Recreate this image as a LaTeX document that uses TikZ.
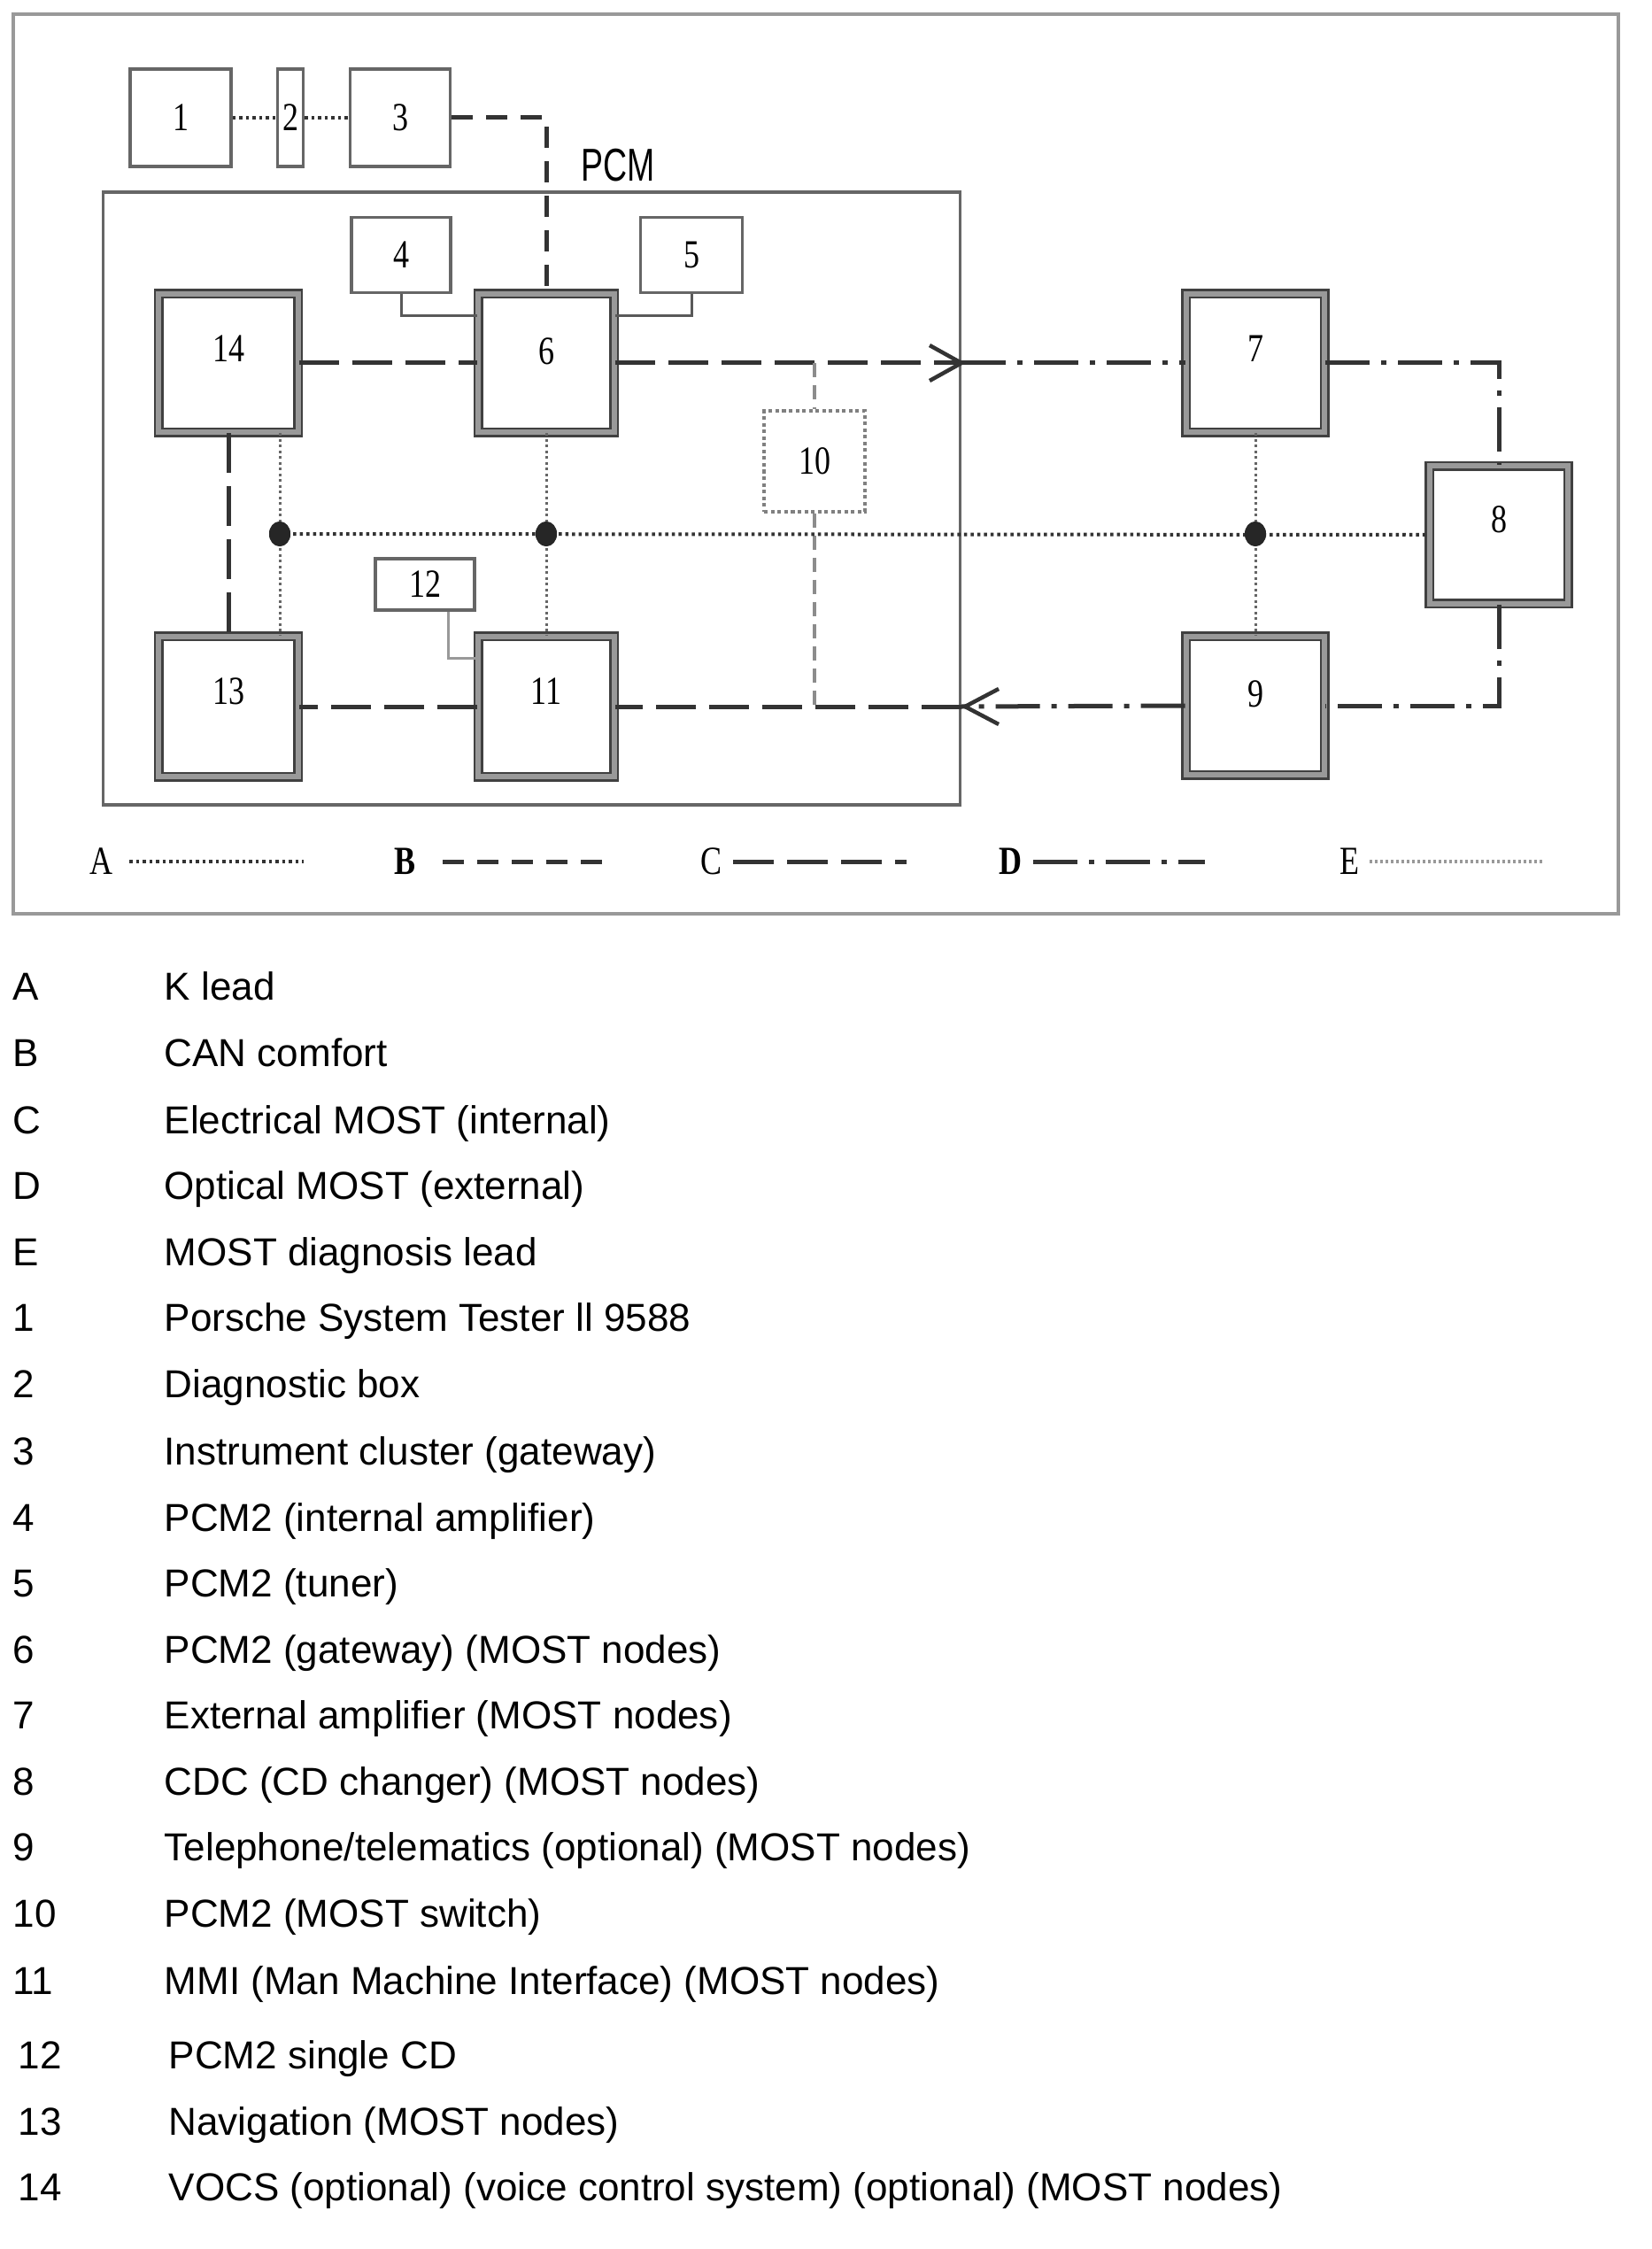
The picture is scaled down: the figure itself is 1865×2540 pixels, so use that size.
\documentclass[tikz,border=0pt]{standalone}
\usepackage{fontspec}
\setmainfont{Liberation Sans}
\newfontfamily\lblfont{Liberation Serif}[FakeStretch=0.8]
\newfontfamily\pcmfont{Liberation Sans}[FakeStretch=0.72]
\usetikzlibrary{calc,shapes.geometric}
\begin{document}
\begin{tikzpicture}[x=0.01cm,y=-0.01cm,
  mostbox/.style={draw=black!75, line width=0.25mm, double=black!40, double distance=0.6mm, fill=white, inner sep=0pt},
  smallbox/.style={draw=black!60, line width=0.35mm, fill=white, inner sep=0pt, font=\lblfont\fontsize{12.8pt}{14pt}\selectfont},
  swbox/.style={draw=black!50, line width=0.4mm, dash pattern=on 0.4mm off 0.35mm, fill=white, inner sep=0pt, font=\lblfont\fontsize{12.8pt}{14pt}\selectfont},
  lbl/.style={font=\lblfont\fontsize{12.8pt}{14pt}\selectfont, inner sep=0pt},
  busC/.style={draw=black!80, line width=0.5mm, dash pattern=on 4.5mm off 1.5mm},
  busB/.style={draw=black!80, line width=0.5mm, dash pattern=on 2.4mm off 1.5mm},
  busD/.style={draw=black!80, line width=0.5mm, dash pattern=on 5mm off 1.3mm on 0.6mm off 1.3mm},
  legC/.style={draw=black!80, line width=0.5mm, dash pattern=on 4.6mm off 1.5mm on 4.6mm off 1.5mm on 4.6mm off 1.5mm on 1.3mm off 1.5mm},
  kdot/.style={draw=black!80, line width=0.4mm, dash pattern=on 0.35mm off 0.4mm},
  vdot/.style={draw=black!60, line width=0.3mm, dash pattern=on 0.3mm off 0.35mm},
  edot/.style={draw=black!40, line width=0.35mm, dash pattern=on 0.3mm off 0.3mm},
  swdash/.style={draw=black!45, line width=0.4mm, dash pattern=on 1.6mm off 0.9mm},
  thinln/.style={draw=black!65, line width=0.3mm},
  lightln/.style={draw=black!40, line width=0.3mm},
  arrowln/.style={draw=black!80, line width=0.45mm},
  dotnode/.style={ellipse, fill=black!85, minimum width=0.24cm, minimum height=0.28cm, inner sep=0pt},
  listtxt/.style={anchor=base west, inner sep=0pt, font=\fontsize{12.52pt}{15pt}\selectfont}
]
\useasboundingbox (0,0) rectangle (1865,2540);

% outer frame
\draw[draw=black!40, line width=0.4mm] (15,16) rectangle (1828,1032);

% PCM box
\node[draw=black!60, line width=0.35mm, minimum width=9.67cm, minimum height=6.92cm, inner sep=0pt] (pcm) at (600.5,563) {};
\node[font=\pcmfont\fontsize{14.8pt}{16pt}\selectfont, inner sep=0pt] (pcml) at (698,187) {PCM};

% small boxes
\node[smallbox, minimum width=1.14cm, minimum height=1.10cm] (n1) at (204,133) {1};
\node[smallbox, minimum width=0.29cm, minimum height=1.10cm] (n2) at (328,133) {2};
\node[smallbox, minimum width=1.13cm, minimum height=1.10cm] (n3) at (452,133) {3};
\node[smallbox, minimum width=1.12cm, minimum height=0.85cm] (n4) at (453,288) {4};
\node[smallbox, minimum width=1.15cm, minimum height=0.85cm] (n5) at (781,288) {5};
\node[smallbox, minimum width=1.12cm, minimum height=0.58cm] (n12) at (480,660) {12};
\node[swbox, minimum width=1.13cm, minimum height=1.13cm] (n10) at (920,521) {10};

% MOST nodes
\node[mostbox, minimum width=1.57cm, minimum height=1.56cm, label={[lbl,yshift=0.16cm]center:14}] (n14) at (258,410) {};
\node[mostbox, minimum width=1.53cm, minimum height=1.56cm, label={[lbl,yshift=0.13cm]center:6}] (n6) at (617,410) {};
\node[mostbox, minimum width=1.56cm, minimum height=1.56cm, label={[lbl,yshift=0.16cm]center:7}] (n7) at (1418,410) {};
\node[mostbox, minimum width=1.56cm, minimum height=1.55cm, label={[lbl,yshift=0.17cm]center:8}] (n8) at (1693,604) {};
\node[mostbox, minimum width=1.56cm, minimum height=1.56cm, label={[lbl,yshift=0.13cm]center:9}] (n9) at (1418,797) {};
\node[mostbox, minimum width=1.57cm, minimum height=1.58cm, label={[lbl,yshift=0.17cm]center:13}] (n13) at (258,798) {};
\node[mostbox, minimum width=1.53cm, minimum height=1.58cm, label={[lbl,yshift=0.17cm]center:11}] (n11) at (617,798) {};

% dots on diagnosis bus
\node[dotnode] (d1) at (316,603) {};
\node[dotnode] (d2) at (617,603) {};
\node[dotnode] (d3) at (1418,603) {};

% K lead chain
\draw[kdot] (n1.east) -- (n2.west);
\draw[kdot] (n2.east) -- (n3.west);
% CAN comfort
\draw[busB] (n3.east) -| (n6.north);
% side connections
\draw[thinln] (n4.south) |- (n6.west |- 0,357);
\draw[thinln] (n5.south) |- (n6.east |- 0,357);
\draw[lightln] (n12.south -| 506,0) |- (n11.west |- 0,743);

% MOST ring
\coordinate (pcmT) at (pcm.east |- n6.east);
\coordinate (pcmB) at (pcm.east |- n11.east);
\draw[busC] (n14.east) -- (n6.west);
\draw[busC] (n6.east) -- (pcmT);
\draw[busD] (pcmT) -- (n7.west);
\draw[busD] (n7.east) -| (n8.north);
\draw[busD] (n8.south) |- (n9.east);
\draw[busD] (n9.west) -- (pcmB);
\draw[busC] (pcmB) -- (n11.east);
\draw[busC] (n11.west) -- (n13.east);
\draw[busC] (n14.south) -- (n13.north);
\draw[arrowln] ($(pcmT)+(-36,-20)$) -- (pcmT) -- ($(pcmT)+(-36,20)$);
\draw[arrowln] ($(pcmB)+(42,-20)$) -- ($(pcmB)+(4,0)$) -- ($(pcmB)+(42,20)$);

% MOST switch links
\coordinate (t10) at (n10.north |- n6.east);
\coordinate (b10) at (n10.south |- n11.east);
\draw[swdash] (t10) -- (n10.north);
\draw[swdash] (n10.south) -- (b10);

% diagnosis bus
\draw[kdot] (d1.center) -- (n8.west);
\draw[vdot] (n14.south -| d1) -- (n13.north -| d1);
\draw[vdot] (n6.south) -- (n11.north);
\draw[vdot] (n7.south) -- (n9.north);
\node[dotnode] at (d1) {};
\node[dotnode] at (d2) {};
\node[dotnode] at (d3) {};

% legend inside frame
\node[lbl] (LA) at (115,973) {A};
\coordinate (LAs) at (146,973); \coordinate (LAe) at (343,973);
\draw[kdot] (LAs) -- (LAe);
\node[lbl, font=\lblfont\bfseries\fontsize{12.8pt}{14pt}\selectfont] (LB) at (458,973) {B};
\coordinate (LBs) at (500,973); \coordinate (LBe) at (680,973);
\draw[busB] (LBs) -- (LBe);
\node[lbl] (LC) at (803,973) {C};
\coordinate (LCs) at (828,973); \coordinate (LCe) at (1024,973);
\draw[legC] (LCs) -- (LCe);
\node[lbl, font=\lblfont\bfseries\fontsize{12.8pt}{14pt}\selectfont] (LD) at (1141,973) {D};
\coordinate (LDs) at (1167,973); \coordinate (LDe) at (1361,973);
\draw[busD] (LDs) -- (LDe);
\node[lbl] (LE) at (1524,973) {E};
\coordinate (LEs) at (1547,973); \coordinate (LEe) at (1745,973);
\draw[edot] (LEs) -- (LEe);

% key list
\node[listtxt] (kA) at (14,1129) {A};   \node[listtxt] (tA) at (185,1129) {K lead};
\node[listtxt] (kB) at (14,1204) {B};   \node[listtxt] (tB) at (185,1204) {CAN comfort};
\node[listtxt] (kC) at (14,1280) {C};   \node[listtxt] (tC) at (185,1280) {Electrical MOST (internal)};
\node[listtxt] (kD) at (14,1354) {D};   \node[listtxt] (tD) at (185,1354) {Optical MOST (external)};
\node[listtxt] (kE) at (14,1429) {E};   \node[listtxt] (tE) at (185,1429) {MOST diagnosis lead};
\node[listtxt] (k1) at (14,1503) {1};   \node[listtxt] (t1) at (185,1503) {Porsche System Tester ll 9588};
\node[listtxt] (k2) at (14,1578) {2};   \node[listtxt] (t2) at (185,1578) {Diagnostic box};
\node[listtxt] (k3) at (14,1654) {3};   \node[listtxt] (t3) at (185,1654) {Instrument cluster (gateway)};
\node[listtxt] (k4) at (14,1729) {4};   \node[listtxt] (t4) at (185,1729) {PCM2 (internal amplifier)};
\node[listtxt] (k5) at (14,1803) {5};   \node[listtxt] (t5) at (185,1803) {PCM2 (tuner)};
\node[listtxt] (k6) at (14,1878) {6};   \node[listtxt] (t6) at (185,1878) {PCM2 (gateway) (MOST nodes)};
\node[listtxt] (k7) at (14,1952) {7};   \node[listtxt] (t7) at (185,1952) {External amplifier (MOST nodes)};
\node[listtxt] (k8) at (14,2027) {8};   \node[listtxt] (t8) at (185,2027) {CDC (CD changer) (MOST nodes)};
\node[listtxt] (k9) at (14,2101) {9};   \node[listtxt] (t9) at (185,2101) {Telephone/telematics (optional) (MOST nodes)};
\node[listtxt] (k10) at (14,2176) {10}; \node[listtxt] (t10t) at (185,2176) {PCM2 (MOST switch)};
\node[listtxt] (k11) at (14,2252) {11}; \node[listtxt] (t11) at (185,2252) {MMI (Man Machine Interface) (MOST nodes)};
\node[listtxt] (k12) at (20,2336) {12}; \node[listtxt] (t12) at (190,2336) {PCM2 single CD};
\node[listtxt] (k13) at (20,2411) {13}; \node[listtxt] (t13) at (190,2411) {Navigation (MOST nodes)};
\node[listtxt] (k14) at (20,2485) {14}; \node[listtxt] (t14) at (190,2485) {VOCS (optional) (voice control system) (optional) (MOST nodes)};
\end{tikzpicture}
\end{document}
